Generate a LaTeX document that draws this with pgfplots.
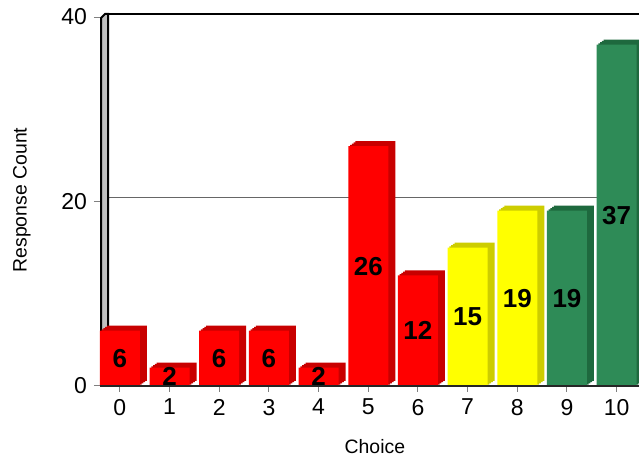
\documentclass[border=0pt]{standalone}
\usepackage{pgfplots}
\pgfplotsset{compat=1.18}
\usepackage{pgfplotstable}
\usepackage{fontspec}
\setmainfont{Liberation Sans}
\definecolor{cred}{RGB}{255,0,0}
\definecolor{credside}{RGB}{200,0,0}
\definecolor{cyel}{RGB}{255,255,0}
\definecolor{cyelside}{RGB}{205,205,0}
\definecolor{cgrn}{RGB}{46,139,87}
\definecolor{cgrnside}{RGB}{30,105,62}
\pgfplotstableread{
x y
0 6
1 2
2 6
3 6
4 2
5 26
6 12
}\redtbl
\pgfplotstableread{
x y
7 15
8 19
}\yeltbl
\pgfplotstableread{
x y
9 19
10 37
}\grntbl
\pgfplotstableread{
x y
0 6
1 2
2 6
3 6
4 2
5 26
6 12
7 15
8 19
9 19
10 37
}\alltbl
\pgfplotsset{
  bar3d/.style={ybar, bar width=20pt, bar shift=0pt, draw=none, forget plot},
}
\begin{document}
\begin{tikzpicture}[x=0.5pt,y=0.5pt]
\useasboundingbox (0,0) rectangle (639,461);
% back wall grid line and left wall
\draw[gray!80!black, line width=0.5pt] (109,263) -- (639,263);
\draw[gray!80!black, line width=0.5pt] (100,259) -- (109,263);
\filldraw[fill=gray!50, draw=black, line width=1pt] (101,75) -- (101,443) -- (105,447) -- (108,447) -- (108,75) -- cycle;
\draw[black, line width=1pt] (105,447) -- (639,447);
\begin{axis}[
  at={(50pt,37.5pt)}, anchor=south west,
  scale only axis, width=269.5pt, height=184.5pt,
  xmin=-0.4, xmax=10.45, ymin=0, ymax=40,
  axis line style={draw=none},
  xtick={0,...,10}, ytick={0,20,40},
  xtick pos=bottom, ytick pos=left,
  tick align=outside, major tick length=3pt,
  tick style={gray, line width=0.5pt},
  /pgf/number format/assume math mode=true,
  ticklabel style={font=\fontsize{11.5}{13}\selectfont},
  xlabel={Choice}, ylabel={Response Count},
  label style={font=\fontsize{9.7}{11}\selectfont},
  xlabel style={at={(axis description cs:0.51,-0.165)}, anchor=center},
  ylabel style={at={(axis description cs:-0.145,0.504)}, anchor=center},
  clip=false,
]
% extrusions (side faces)
\addplot[bar3d, fill=credside, xshift=3.5pt, yshift=2.5pt] table[x=x,y=y] {\redtbl};
\addplot[bar3d, fill=cyelside, xshift=3.5pt, yshift=2.5pt] table[x=x,y=y] {\yeltbl};
\addplot[bar3d, fill=cgrnside, xshift=3.5pt, yshift=2.5pt] table[x=x,y=y] {\grntbl};
\addplot[bar3d, fill=credside, xshift=2.625pt, yshift=1.875pt] table[x=x,y=y] {\redtbl};
\addplot[bar3d, fill=cyelside, xshift=2.625pt, yshift=1.875pt] table[x=x,y=y] {\yeltbl};
\addplot[bar3d, fill=cgrnside, xshift=2.625pt, yshift=1.875pt] table[x=x,y=y] {\grntbl};
\addplot[bar3d, fill=credside, xshift=1.75pt, yshift=1.25pt] table[x=x,y=y] {\redtbl};
\addplot[bar3d, fill=cyelside, xshift=1.75pt, yshift=1.25pt] table[x=x,y=y] {\yeltbl};
\addplot[bar3d, fill=cgrnside, xshift=1.75pt, yshift=1.25pt] table[x=x,y=y] {\grntbl};
\addplot[bar3d, fill=credside, xshift=0.875pt, yshift=0.625pt] table[x=x,y=y] {\redtbl};
\addplot[bar3d, fill=cyelside, xshift=0.875pt, yshift=0.625pt] table[x=x,y=y] {\yeltbl};
\addplot[bar3d, fill=cgrnside, xshift=0.875pt, yshift=0.625pt] table[x=x,y=y] {\grntbl};
% front faces
\addplot[bar3d, fill=cred] table[x=x,y=y] {\redtbl};
\addplot[bar3d, fill=cyel] table[x=x,y=y] {\yeltbl};
\addplot[bar3d, fill=cgrn] table[x=x,y=y] {\grntbl};
% value labels
\addplot[draw=none, mark=none, forget plot, point meta=explicit,
  nodes near coords,
  every node near coord/.style={anchor=center, font=\fontsize{13}{15}\selectfont\bfseries, text=black},
  nodes near coords={\pgfmathprintnumber[int detect]{\pgfplotspointmeta}}]
  table[x=x, y expr=\thisrow{y}/2, meta=y] {\alltbl};
\end{axis}
\draw[black!85, line width=1.2pt] (100,75) -- (639,75);
\end{tikzpicture}
\end{document}
